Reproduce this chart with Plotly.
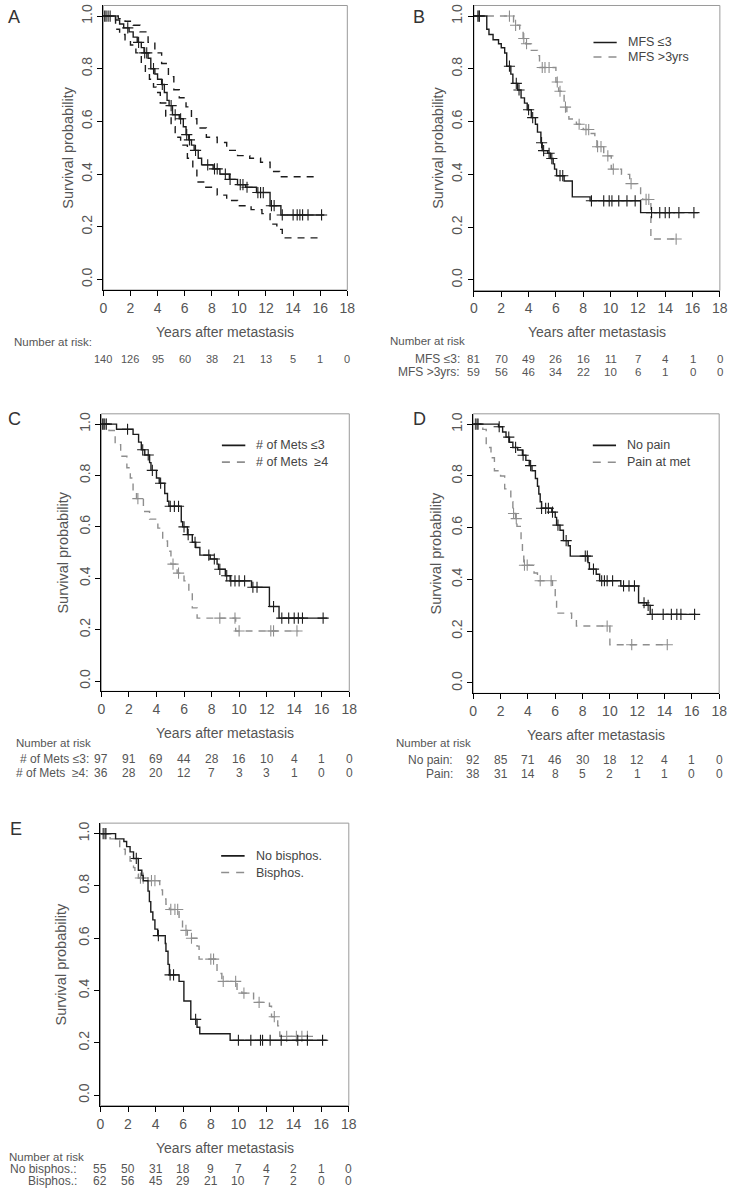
import plotly.graph_objects as go

W, H = 738, 1200

# ---------------- data ----------------
XTICKS = [0, 2, 4, 6, 8, 10, 12, 14, 16, 18]
YTICKS = [0.0, 0.2, 0.4, 0.6, 0.8, 1.0]

# Panel A: overall KM with confidence band
A_t = [0, 0.9, 1.2, 1.5, 1.9, 2.2, 2.5, 2.8, 3.0, 3.3, 3.5, 3.8, 4.0, 4.3, 4.5, 4.7, 4.85, 5.1, 5.6, 5.9,
       6.1, 6.3, 6.5, 6.7, 7.0, 7.25, 8.1, 8.6, 9.3, 9.9, 10.5, 11.3, 12.3, 13.1]
A_s = [1.0, 0.985, 0.97, 0.955, 0.94, 0.92, 0.90, 0.88, 0.86, 0.84, 0.80, 0.78, 0.76, 0.74, 0.71, 0.68, 0.66, 0.625, 0.61, 0.58,
       0.55, 0.53, 0.51, 0.49, 0.46, 0.435, 0.42, 0.40, 0.38, 0.36, 0.35, 0.33, 0.28, 0.245]
A_end = 16.3
A_cens = [0.1, 0.2, 0.35, 0.5, 1.8, 2.6, 3.05, 3.2, 3.7, 4.35, 5.0, 5.3, 5.7, 6.15, 6.35, 6.8, 7.7, 8.2, 8.4, 9.0,
          9.35, 10.1, 10.3, 10.6, 11.4, 11.6, 11.8, 12.4, 12.6, 13.2, 14.0, 14.3, 14.5, 14.7, 15.1, 16.1]
A_up_t = [0, 1.1, 1.6, 2.2, 2.7, 3.3, 3.8, 4.3, 4.8, 5.2, 5.6, 6.1, 6.5, 6.9, 7.6, 8.4, 9.1, 9.9, 10.8, 11.6, 12.3, 13.0]
A_up_s = [1.0, 0.99, 0.98, 0.965, 0.94, 0.90, 0.86, 0.82, 0.77, 0.72, 0.69, 0.655, 0.61, 0.575, 0.54, 0.52, 0.49, 0.47,
          0.46, 0.445, 0.41, 0.39]
A_up_end = 15.9
A_lo_t = [0, 0.9, 1.2, 1.6, 2.0, 2.4, 2.8, 3.1, 3.4, 3.7, 3.9, 4.2, 4.6, 5.0, 5.3, 5.7, 6.2, 6.6, 6.9, 7.5, 8.4, 9.1,
          9.9, 10.9, 11.7, 12.3, 12.8, 13.2]
A_lo_s = [1.0, 0.95, 0.93, 0.91, 0.89, 0.86, 0.82, 0.79, 0.76, 0.73, 0.71, 0.67, 0.62, 0.58, 0.54, 0.51, 0.46, 0.42,
          0.37, 0.35, 0.32, 0.30, 0.28, 0.265, 0.25, 0.21, 0.19, 0.158]
A_lo_end = 16.0
A_risk = [140, 126, 95, 60, 38, 21, 13, 5, 1, 0]

# Panel B: MFS
B1_t = [0, 0.94, 1.1, 1.4, 1.8, 2.0, 2.25, 2.4, 2.7, 2.85, 3.2, 3.45, 3.7, 3.9, 4.2, 4.5, 4.65, 4.9, 5.0, 5.4,
        5.6, 5.8, 5.9, 6.05, 6.6, 7.2, 8.5, 12.2]
B1_s = [1.0, 0.95, 0.93, 0.91, 0.895, 0.88, 0.86, 0.81, 0.78, 0.745, 0.72, 0.69, 0.67, 0.645, 0.615, 0.59, 0.56, 0.52,
        0.49, 0.48, 0.46, 0.44, 0.42, 0.395, 0.375, 0.315, 0.30, 0.255]
B1_end = 16.4
B1_cens = [0.3, 0.4, 2.6, 3.1, 3.3, 4.0, 4.3, 4.95, 5.1, 5.5, 5.7, 6.3, 6.5, 8.6, 9.5, 9.9, 10.1, 10.6, 11.2, 11.8,
           13.0, 13.6, 14.0, 14.3, 15.0, 16.1]
B2_t = [0, 2.9, 3.35, 3.6, 3.8, 4.2, 4.65, 4.8, 6.0, 6.2, 6.6, 6.8, 6.95, 7.5, 8.0, 8.5, 8.85, 9.0, 9.5, 10.05,
        10.8, 11.4, 12.2, 12.35, 12.95]
B2_s = [1.0, 0.965, 0.95, 0.915, 0.895, 0.87, 0.85, 0.805, 0.75, 0.715, 0.655, 0.635, 0.61, 0.59, 0.57, 0.555, 0.535,
        0.505, 0.47, 0.42, 0.40, 0.365, 0.32, 0.305, 0.155]
B2_end = 14.95
B2_cens = [0.3, 0.4, 2.6, 3.05, 3.65, 3.85, 5.0, 5.2, 5.5, 6.1, 6.3, 6.7, 7.7, 8.2, 8.4, 9.05, 9.3, 9.8, 10.2, 11.5,
           12.6, 12.8, 14.8]
B_names = ["MFS \u22643", "MFS >3yrs"]
B_rowlab = ["MFS \u22643:", "MFS >3yrs:"]
B_risk1 = [81, 70, 49, 26, 16, 11, 7, 4, 1, 0]
B_risk2 = [59, 56, 46, 34, 22, 10, 6, 1, 0, 0]

# Panel C: number of mets
C1_t = [0, 1.1, 2.3, 2.7, 2.9, 3.15, 3.5, 3.6, 4.0, 4.2, 4.6, 4.8, 4.9, 5.8, 5.9, 6.25, 6.6, 6.85, 7.15, 7.9,
        8.4, 8.5, 9.0, 9.35, 10.9, 12.2, 12.9]
C1_s = [1.0, 0.98, 0.96, 0.93, 0.90, 0.88, 0.85, 0.82, 0.79, 0.77, 0.73, 0.70, 0.68, 0.62, 0.60, 0.57, 0.54, 0.52,
        0.49, 0.475, 0.455, 0.435, 0.41, 0.39, 0.365, 0.29, 0.245]
C1_end = 16.4
C1_cens = [0.1, 0.2, 0.35, 1.9, 3.0, 3.4, 3.7, 4.3, 5.0, 5.3, 5.6, 6.0, 6.3, 6.8, 7.8, 8.2, 8.6, 9.1, 9.4, 9.7,
           10.0, 10.4, 11.0, 11.3, 12.5, 13.1, 13.6, 14.0, 14.3, 14.6, 16.1]
C2_t = [0, 0.55, 1.0, 1.4, 1.85, 2.1, 2.3, 2.55, 3.05, 3.5, 4.1, 4.45, 4.8, 5.05, 5.5, 6.0, 6.35, 6.6, 6.95, 9.75]
C2_s = [1.0, 0.975, 0.92, 0.875, 0.83, 0.79, 0.74, 0.71, 0.66, 0.63, 0.595, 0.545, 0.505, 0.455, 0.42, 0.39, 0.35,
        0.285, 0.245, 0.195]
C2_end = 14.3
C2_cens = [0.1, 0.2, 0.35, 2.65, 5.2, 5.6, 8.6, 9.7, 10.0, 12.3, 12.5, 14.2]
C_names = ["# of Mets \u22643", "# of Mets  \u22654"]
C_rowlab = ["# of Mets \u22643:", "# of Mets  \u22654:"]
C_risk1 = [97, 91, 69, 44, 28, 16, 10, 4, 1, 0]
C_risk2 = [36, 28, 20, 12, 7, 3, 3, 1, 0, 0]

# Panel D: pain
D1_t = [0, 1.85, 2.15, 2.4, 2.65, 2.9, 3.25, 3.6, 3.85, 4.1, 4.3, 4.55, 4.7, 4.8, 4.9, 5.0, 5.75, 6.0, 6.1, 6.35,
        6.6, 6.95, 7.1, 8.4, 8.5, 9.0, 9.25, 10.8, 12.1, 12.7, 12.95]
D1_s = [1.0, 0.99, 0.97, 0.95, 0.93, 0.91, 0.90, 0.88, 0.86, 0.84, 0.82, 0.79, 0.76, 0.73, 0.70, 0.675, 0.66, 0.64,
        0.61, 0.59, 0.55, 0.53, 0.49, 0.465, 0.44, 0.42, 0.395, 0.375, 0.31, 0.30, 0.265]
D1_end = 16.3
D1_cens = [0.2, 0.35, 1.9, 2.6, 3.1, 3.65, 4.2, 5.0, 5.3, 5.5, 5.8, 6.2, 6.8, 8.2, 8.35, 8.8, 9.4, 9.6, 9.8, 10.2,
           11.0, 11.4, 11.8, 12.5, 12.8, 13.1, 13.9, 14.5, 14.9, 15.2, 16.2]
D2_t = [0, 0.7, 0.95, 1.3, 1.55, 2.0, 2.3, 2.75, 2.9, 3.1, 3.2, 3.5, 3.6, 3.7, 4.45, 4.7, 5.8, 6.0, 6.1, 7.2, 7.55, 10.0]
D2_s = [1.0, 0.98, 0.91, 0.87, 0.82, 0.80, 0.75, 0.70, 0.655, 0.635, 0.605, 0.545, 0.495, 0.455, 0.425, 0.395, 0.36,
        0.315, 0.27, 0.25, 0.22, 0.148]
D2_end = 14.3
D2_cens = [0.15, 0.3, 2.95, 3.15, 3.75, 3.95, 4.9, 5.7, 9.8, 11.6, 14.2]
D_names = ["No pain", "Pain at met"]
D_rowlab = ["No pain:", "Pain:"]
D_risk1 = [92, 85, 71, 46, 30, 18, 12, 4, 1, 0]
D_risk2 = [38, 31, 14, 8, 5, 2, 1, 1, 0, 0]

# Panel E: bisphosphonates
E1_t = [0, 1.1, 1.7, 1.9, 2.15, 2.4, 2.75, 3.0, 3.1, 3.45, 3.55, 3.65, 3.8, 3.95, 4.15, 4.7, 4.75, 4.9, 5.0, 5.7,
        6.05, 6.55, 7.0, 7.2, 9.4]
E1_s = [1.0, 0.98, 0.97, 0.95, 0.93, 0.905, 0.86, 0.84, 0.82, 0.78, 0.74, 0.70, 0.67, 0.635, 0.61, 0.58, 0.55, 0.50,
        0.46, 0.435, 0.36, 0.29, 0.26, 0.235, 0.21]
E1_end = 16.4
E1_cens = [0.2, 0.4, 2.6, 4.2, 5.05, 5.3, 6.9, 10.0, 10.9, 11.6, 11.75, 12.3, 13.1, 14.3, 15.0, 16.1]
E2_t = [0, 0.7, 1.4, 1.8, 2.15, 2.4, 2.5, 2.75, 3.45, 4.3, 4.5, 4.75, 5.0, 5.7, 5.95, 6.3, 7.0, 7.15, 8.45, 8.8,
        9.9, 10.25, 11.1, 12.25, 12.4, 12.85, 13.0]
E2_s = [1.0, 0.98, 0.94, 0.92, 0.895, 0.87, 0.845, 0.83, 0.82, 0.785, 0.75, 0.73, 0.71, 0.67, 0.63, 0.60, 0.57, 0.52,
        0.465, 0.435, 0.405, 0.39, 0.355, 0.34, 0.30, 0.265, 0.225]
E2_end = 15.3
E2_cens = [0.3, 0.35, 2.9, 3.1, 3.7, 3.95, 5.1, 5.4, 5.6, 6.2, 6.6, 8.0, 8.2, 8.9, 9.8, 10.4, 11.5, 12.6, 13.5, 14.2,
           14.6, 15.0]
E_names = ["No bisphos.", "Bisphos."]
E_rowlab = ["No bisphos.:", "Bisphos.:"]
E_risk1 = [55, 50, 31, 18, 9, 7, 4, 2, 1, 0]
E_risk2 = [62, 56, 45, 29, 21, 10, 7, 2, 0, 0]

# ---------------- styling ----------------
BLACK = "#1c1c1c"
GRAY = "#8e8e8e"
TXT = "#555555"
FONT = "Liberation Sans, Arial, sans-serif"
DASH = "7px,6px"
LEG_DASH = "8px,7px"


def px_x(p):
    return p / W


def px_y(p):
    return 1 - p / H


def surv_at(t, s, x):
    v = s[0]
    for ti, si in zip(t, s):
        if ti <= x:
            v = si
        else:
            break
    return v


fig = go.Figure()

# panel geometry in page pixels: left, right, top, bottom
panels = [
    dict(n=1, letter="A", box=(101, 349, 3.5, 288.5)),
    dict(n=2, letter="B", box=(477.7, 727.7, 3.5, 289)),
    dict(n=3, letter="C", box=(99, 351, 412.5, 690.5)),
    dict(n=4, letter="D", box=(477, 727, 412.5, 692.5)),
    dict(n=5, letter="E", box=(98, 350.5, 822.5, 1105.5)),
]

layout = dict(width=W, height=H, margin=dict(l=0, r=0, t=0, b=0),
              plot_bgcolor="white", paper_bgcolor="white", showlegend=False,
              font=dict(family=FONT, color=TXT))
shapes = []
annotations = []

for p in panels:
    n = p["n"]
    l, r, t, b = p["box"]
    xa = "xaxis" if n == 1 else f"xaxis{n}"
    ya = "yaxis" if n == 1 else f"yaxis{n}"
    xr = "x" if n == 1 else f"x{n}"
    yr = "y" if n == 1 else f"y{n}"
    layout[xa] = dict(domain=[px_x(l), px_x(r)], anchor=yr, range=[0, 18], tickvals=XTICKS,
                      ticks="outside", ticklen=5, tickcolor="black", tickwidth=1,
                      showline=True, linecolor="black", linewidth=1.2, showgrid=False, zeroline=False,
                      tickfont=dict(size=14, color=TXT, family=FONT))
    layout[ya] = dict(domain=[px_y(b), px_y(t)], anchor=xr, range=[-0.04, 1.04], tickvals=YTICKS,
                      ticktext=[f"{v:.1f}" for v in YTICKS], tickangle=-90,
                      ticks="outside", ticklen=5, tickcolor="black", tickwidth=1,
                      showline=True, linecolor="black", linewidth=1.2, showgrid=False, zeroline=False,
                      tickfont=dict(size=14, color=TXT, family=FONT))
    shapes.append(dict(type="rect", xref=f"{xr} domain", yref=f"{yr} domain", x0=0, x1=1, y0=0, y1=1,
                       line=dict(color="#9a9a9a", width=1), layer="below"))
    lx = {"A": 10, "B": 422, "C": 11, "D": 422, "E": 12}[p["letter"]]
    ly = {"A": 15, "B": 15, "C": 418, "D": 418, "E": 828}[p["letter"]]
    annotations.append(dict(x=px_x(lx), y=px_y(ly), xref="paper", yref="paper", text=p["letter"],
                            showarrow=False, xanchor="center", yanchor="middle",
                            font=dict(size=18, color="#333333", family=FONT)))
    annotations.append(dict(x=px_x((l + r) / 2), y=px_y(b + 42), xref="paper", yref="paper",
                            text="Years after metastasis", showarrow=False, xanchor="center", yanchor="middle",
                            font=dict(size=14, color=TXT, family=FONT)))
    ytx = {"A": 65, "B": 441, "C": 60, "D": 439, "E": 58}[p["letter"]]
    annotations.append(dict(x=px_x(ytx), y=px_y((t + b) / 2), xref="paper", yref="paper",
                            text="Survival probability", showarrow=False, textangle=-90,
                            xanchor="center", yanchor="middle",
                            font=dict(size=14.5, color=TXT, family=FONT)))


def add_curve(n, t, s, end, cens, color, dash, width=1.4):
    xr = "x" if n == 1 else f"x{n}"
    yr = "y" if n == 1 else f"y{n}"
    fig.add_trace(go.Scatter(x=list(t) + [end], y=list(s) + [s[-1]], mode="lines", xaxis=xr, yaxis=yr,
                             line=dict(color=color, width=width, dash=dash, shape="hv"), hoverinfo="skip"))
    if cens:
        fig.add_trace(go.Scatter(x=cens, y=[surv_at(t, s, c) for c in cens], mode="markers", xaxis=xr, yaxis=yr,
                                 marker=dict(symbol="cross-thin", size=8, line=dict(color=color, width=1.1)),
                                 hoverinfo="skip"))


add_curve(1, A_up_t, A_up_s, A_up_end, None, BLACK, DASH, 1.4)
add_curve(1, A_lo_t, A_lo_s, A_lo_end, None, BLACK, DASH, 1.4)
add_curve(1, A_t, A_s, A_end, A_cens, BLACK, "solid", 1.4)
add_curve(2, B2_t, B2_s, B2_end, B2_cens, GRAY, DASH)
add_curve(2, B1_t, B1_s, B1_end, B1_cens, BLACK, "solid")
add_curve(3, C2_t, C2_s, C2_end, C2_cens, GRAY, DASH)
add_curve(3, C1_t, C1_s, C1_end, C1_cens, BLACK, "solid")
add_curve(4, D2_t, D2_s, D2_end, D2_cens, GRAY, DASH)
add_curve(4, D1_t, D1_s, D1_end, D1_cens, BLACK, "solid")
add_curve(5, E2_t, E2_s, E2_end, E2_cens, GRAY, DASH)
add_curve(5, E1_t, E1_s, E1_end, E1_cens, BLACK, "solid")


def add_legend(n, names, ys):
    xr = f"x{n}"
    yr = f"y{n}"
    for name, yv, col, dsh in zip(names, ys, [BLACK, GRAY], ["solid", LEG_DASH]):
        shapes.append(dict(type="line", xref=xr, yref=yr, x0=8.75, x1=10.45, y0=yv, y1=yv,
                           line=dict(color=col, width=1.6, dash=dsh)))
        annotations.append(dict(x=11.1, y=yv, xref=xr, yref=yr, text=name, showarrow=False,
                                xanchor="left", yanchor="middle", font=dict(size=12.5, color="#444444", family=FONT)))


add_legend(2, B_names, [0.90, 0.845])
add_legend(3, C_names, [0.917, 0.852])
add_legend(4, D_names, [0.918, 0.853])
add_legend(5, E_names, [0.915, 0.851])


def add_header(xpx, ypx, text):
    annotations.append(dict(x=px_x(xpx), y=px_y(ypx), xref="paper", yref="paper", text=text, showarrow=False,
                            xanchor="left", yanchor="middle", font=dict(size=11.5, color=TXT, family=FONT)))


def add_row(n, ypx, values, label=None, label_right=None, size=12):
    xr = "x" if n == 1 else f"x{n}"
    for xv, v in zip(XTICKS, values):
        annotations.append(dict(x=xv, y=px_y(ypx), xref=xr, yref="paper", text=str(v), showarrow=False,
                                xanchor="center", yanchor="middle", font=dict(size=size, color=TXT, family=FONT)))
    if label:
        annotations.append(dict(x=px_x(label_right), y=px_y(ypx), xref="paper", yref="paper", text=label,
                                showarrow=False, xanchor="right", yanchor="middle",
                                font=dict(size=12, color=TXT, family=FONT)))


add_header(8, 341, "Number at risk:")
add_row(1, 358, A_risk, size=11)

add_header(390, 340, "Number at risk")
add_row(2, 358, B_risk1, B_rowlab[0], 466, size=11.5)
add_row(2, 371, B_risk2, B_rowlab[1], 466, size=11.5)

add_header(10, 742, "Number at risk")
add_row(3, 758, C_risk1, C_rowlab[0], 88)
add_row(3, 772, C_risk2, C_rowlab[1], 88)

add_header(396, 742, "Number at risk")
add_row(4, 759, D_risk1, D_rowlab[0], 458)
add_row(4, 773, D_risk2, D_rowlab[1], 458)

add_header(3, 1157, "Number at risk")
add_row(5, 1169, E_risk1, E_rowlab[0], 76)
add_row(5, 1181, E_risk2, E_rowlab[1], 76)

layout["shapes"] = shapes
layout["annotations"] = annotations
fig.update_layout(**layout)
# place the figure at the page origin (remove the browser's default 8px body margin), no mode bar
fig.write_html("out.html", config={"displayModeBar": False},
               post_script="document.body.style.margin='0px';document.body.style.overflow='hidden';")
